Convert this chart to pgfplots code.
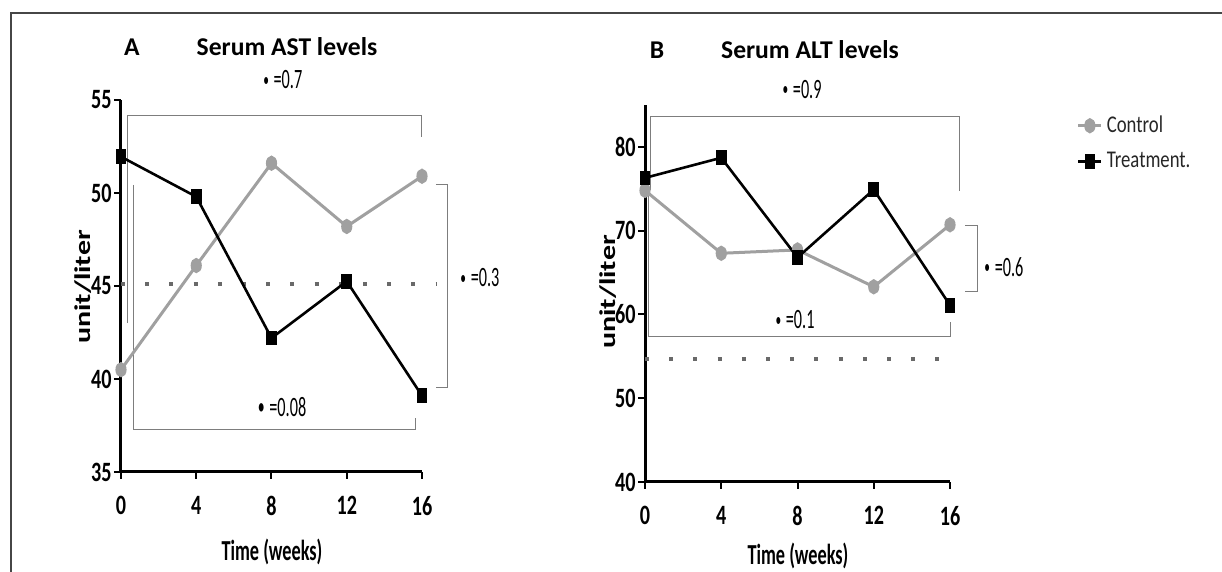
\documentclass[border=0pt]{standalone}
\usepackage{fontspec}
\setmainfont{Carlito}
\newfontfamily\tickfont[FakeStretch=0.72]{Carlito}
\newfontfamily\pfont[FakeStretch=0.58]{Carlito}
\newfontfamily\legfont[FakeStretch=0.78]{Carlito}
\newfontfamily\xlfont[FakeStretch=0.63]{Carlito}
\usepackage{pgfplots}
\pgfplotsset{compat=1.18}
\definecolor{ctrl}{RGB}{160,160,160}
\definecolor{refc}{RGB}{105,105,105}
\definecolor{brkc}{RGB}{125,125,125}
\definecolor{frm}{RGB}{70,70,70}
\newcommand{\smb}{\raisebox{0.1em}{\scalebox{0.7}{\textbullet}}}
\newcommand{\bgb}{\raisebox{0.05em}{\scalebox{0.85}{\textbullet}}}
\tikzset{
  brk/.style={brkc, line width=0.5pt},
  plab/.style={font=\pfont\fontsize{14pt}{15pt}\selectfont},
}
\pgfplotsset{
  panel/.style={
    scale only axis, clip=false,
    xmin=0, xmax=16, xtick={0,4,8,12,16},
    axis x line*=bottom, axis y line*=left,
    axis line style={line width=1.5pt, black, -},
    tick style={line width=1pt, black},
    tick align=outside, major tick length=3.5pt,
    /pgf/number format/assume math mode=true,
    tick label style={font=\tickfont\bfseries\fontsize{14pt}{15pt}\selectfont},
    yticklabel style={inner sep=1pt},
    xticklabel style={yshift=-5pt},
  },
  ctrlplot/.style={ctrl, line width=1.5pt, mark=*, mark size=3pt, mark options={xscale=0.68, fill=ctrl, draw=ctrl, solid}},
  trtplot/.style={black, line width=1.3pt, mark=square*, mark size=3pt, mark options={xscale=0.68, fill=black, solid}},
  refline/.style={refc, line width=2pt, dash pattern=on 2pt off 10.1pt, forget plot},
}
\begin{document}
\begin{tikzpicture}
\useasboundingbox (0,0) rectangle (611pt,286pt);
\draw[frm, line width=0.75pt] (5.5pt,0pt) -- (5.5pt,279.5pt) -- (611pt,279.5pt);
% Titles
\node[font=\bfseries\fontsize{12.8pt}{14pt}\selectfont] at (66pt,262.5pt) {A};
\node[font=\bfseries\fontsize{12.8pt}{14pt}\selectfont] at (143.5pt,262.5pt) {Serum AST levels};
\node[font=\bfseries\fontsize{12.8pt}{14pt}\selectfont] at (328.5pt,261pt) {B};
\node[font=\bfseries\fontsize{12.8pt}{14pt}\selectfont] at (405pt,261pt) {Serum ALT levels};
% y labels
\node[rotate=90] at (41.5pt,142.5pt) {\scalebox{1}[0.75]{\bfseries\fontsize{15pt}{16pt}\selectfont unit/liter}};
\node[rotate=90] at (304pt,140pt) {\scalebox{1}[0.75]{\bfseries\fontsize{15pt}{16pt}\selectfont unit/liter}};
% x labels
\node[font=\xlfont\bfseries\fontsize{14.5pt}{15pt}\selectfont] at (136pt,10pt) {Time (weeks)};
\node[font=\xlfont\bfseries\fontsize{14.5pt}{15pt}\selectfont] at (399pt,8pt) {Time (weeks)};

\begin{axis}[panel, at={(60.5pt,50pt)}, anchor=south west,
  width=150.5pt, height=186pt, ymin=35, ymax=55, ytick={35,40,45,50,55}]
\addplot[refline] coordinates {(0,45.1) (16.8,45.1)};
\draw[brk] (axis cs:0.37,43.01) -- (axis cs:0.37,54.19) -- (axis cs:15.95,54.19) -- (axis cs:15.95,53.01);
\draw[brk] (axis cs:0.69,50.43) -- (axis cs:0.69,37.26) -- (axis cs:15.63,37.26) -- (axis cs:15.63,37.9);
\draw[brk] (axis cs:16.74,50.48) -- (axis cs:17.33,50.48) -- (axis cs:17.33,39.52) -- (axis cs:16.74,39.52);
\addplot[ctrlplot] coordinates {(0,40.5) (4,46.1) (8,51.6) (12,48.2) (16,50.9)};
\addplot[trtplot] coordinates {(0,51.95) (4,49.8) (8,42.2) (12,45.25) (16,39.1)};
\node[plab] at (axis cs:8.6,56.08) {\smb\,=0.7};
\node[plab] at (axis cs:8.56,38.5) {\bgb\,=0.08};
\node[plab] at (axis cs:19.08,45.43) {\smb\,=0.3};
\end{axis}

\begin{axis}[panel, at={(322.5pt,45pt)}, anchor=south west,
  width=152.5pt, height=188.5pt, ymin=40, ymax=85, ytick={40,50,60,70,80},
  legend style={at={(1.395,0.898)}, anchor=west, draw=none, fill=none,
    font=\legfont\fontsize{12pt}{13pt}\selectfont, text=black!85, row sep=4.5pt,
    legend cell align=left},
  legend image code/.code={\draw[mark repeat=2,mark phase=2,#1] plot coordinates {(0pt,0pt) (5.75pt,0pt) (11.5pt,0pt)};}]
\addplot[refline] coordinates {(0,54.7) (16.1,54.7)};
\draw[brk] (axis cs:0.31,74.85) -- (axis cs:0.31,83.57) -- (axis cs:16.52,83.57) -- (axis cs:16.52,74.73);
\draw[brk] (axis cs:0.16,75.2) -- (axis cs:0.16,57.31) -- (axis cs:16.0,57.31) -- (axis cs:16.0,59.1);
\draw[brk] (axis cs:16.79,70.67) -- (axis cs:17.42,70.67) -- (axis cs:17.42,62.68) -- (axis cs:16.79,62.68);
\addplot[ctrlplot] coordinates {(0,74.8) (4,67.3) (8,67.7) (12,63.3) (16,70.7)};
\addlegendentry{Control}
\addplot[trtplot] coordinates {(0,76.3) (4,78.7) (8,66.8) (12,74.9) (16,61.1)};
\addlegendentry{Treatment.}
\node[plab] at (axis cs:8.24,86.9) {\smb\,=0.9};
\node[plab] at (axis cs:7.87,59.34) {\smb\,=0.1};
\node[plab] at (axis cs:18.83,65.66) {\smb\,=0.6};
\end{axis}
\end{tikzpicture}
\end{document}
